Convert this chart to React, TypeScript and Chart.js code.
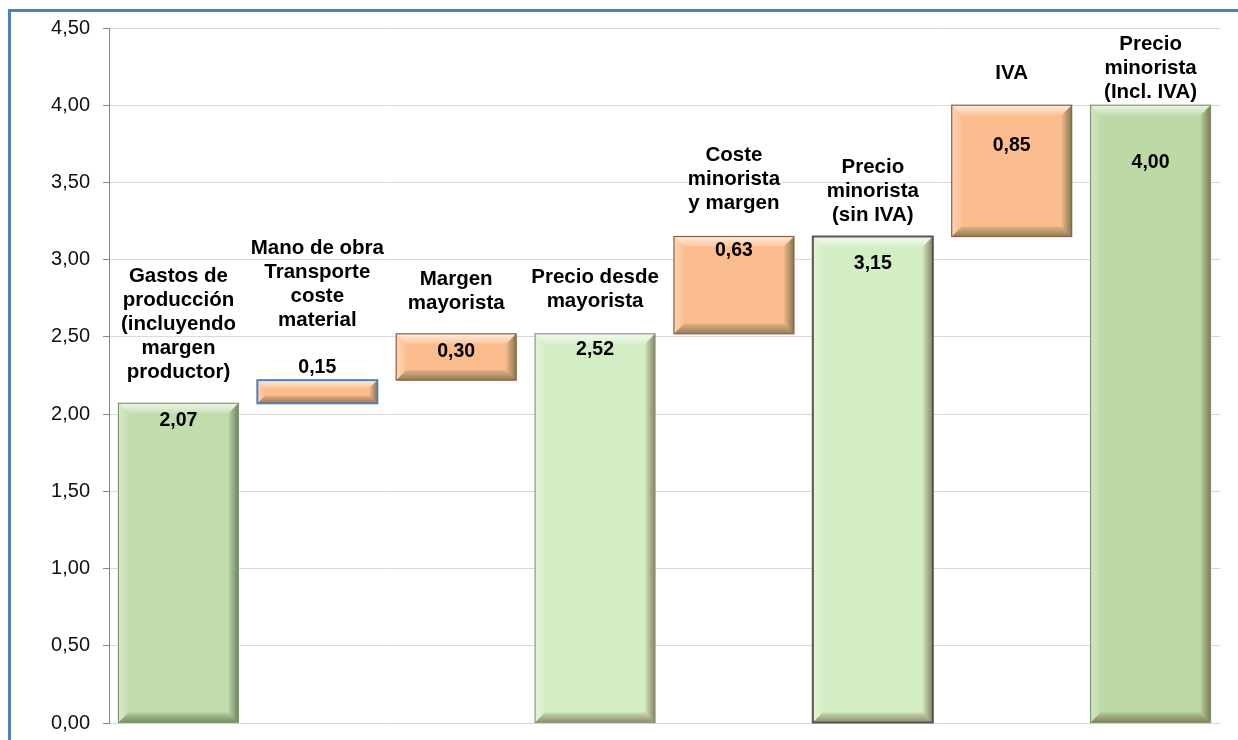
import React, { useEffect, useRef } from "react";
import { Chart, registerables } from "chart.js";

Chart.register(...registerables);

const categories: string[][] = [
  ["Gastos de", "producción", "(incluyendo", "margen", "productor)"],
  ["Mano de obra", "Transporte", "coste", "material"],
  ["Margen", "mayorista"],
  ["Precio desde", "mayorista"],
  ["Coste", "minorista", "y margen"],
  ["Precio", "minorista", "(sin IVA)"],
  ["IVA"],
  ["Precio", "minorista", "(Incl. IVA)"],
];
const values: number[] = [2.07, 0.15, 0.3, 2.52, 0.63, 3.15, 0.85, 4.0];
const bases: number[] = [0, 2.07, 2.22, 0, 2.52, 0, 3.15, 0];
const yTicks: number[] = [0, 0.5, 1, 1.5, 2, 2.5, 3, 3.5, 4, 4.5];

// styling (not data)
const fills = ["#c2ddad", "#fbbd8d", "#fbbd8d", "#d3eec4", "#fbbd8d", "#d3eec4", "#fbbd8d", "#bcd9a6"];
const borders = ["#7f9a72", "#4f81bd", "#8a6040", "#8a9a80", "#8a6040", "#555555", "#8a6040", "#7f9a72"];
const valueOffsets = [17, -13, 18, 16, 14, 27, 40, 57];
const labelGaps = [31, 60, 30, 32, 33, 21, 32, 13];
const FONT = "'Liberation Sans', Arial, sans-serif";

const fmt = (v: number) => v.toFixed(2).replace(".", ",");

const bevelPlugin = {
  id: "bevelLabels",
  afterDatasetsDraw(chart: any) {
    const ctx: CanvasRenderingContext2D = chart.ctx;
    const meta = chart.getDatasetMeta(0);
    const poly = (pts: number[][], fill: string | CanvasGradient) => {
      ctx.beginPath();
      ctx.moveTo(pts[0][0], pts[0][1]);
      for (let k = 1; k < pts.length; k++) ctx.lineTo(pts[k][0], pts[k][1]);
      ctx.closePath();
      ctx.fillStyle = fill;
      ctx.fill();
    };
    meta.data.forEach((el: any, i: number) => {
      const p = el.getProps(["x", "y", "base", "width"], true);
      const l = p.x - p.width / 2;
      const r = p.x + p.width / 2;
      const t = Math.min(p.y, p.base);
      const b = Math.max(p.y, p.base);
      const h = b - t;
      const d = Math.min(10, h / 3);
      const dark = i % 2 === 1 ? "rgba(80,40,15," : "rgba(40,60,30,";
      ctx.save();
      const gt = ctx.createLinearGradient(0, t, 0, t + d);
      gt.addColorStop(0, "rgba(255,255,255,0.7)");
      gt.addColorStop(1, "rgba(255,255,255,0.15)");
      poly([[l, t], [r, t], [r - d, t + d], [l + d, t + d]], gt);
      const gl = ctx.createLinearGradient(l, 0, l + d, 0);
      gl.addColorStop(0, "rgba(255,255,255,0.35)");
      gl.addColorStop(1, "rgba(255,255,255,0.05)");
      poly([[l, t], [l + d, t + d], [l + d, b - d], [l, b]], gl);
      const gr = ctx.createLinearGradient(r - d, 0, r, 0);
      gr.addColorStop(0, dark + "0.05)");
      gr.addColorStop(1, dark + "0.55)");
      poly([[r, t], [r, b], [r - d, b - d], [r - d, t + d]], gr);
      const gb = ctx.createLinearGradient(0, b - d, 0, b);
      gb.addColorStop(0, dark + "0.1)");
      gb.addColorStop(1, dark + "0.5)");
      poly([[l, b], [r, b], [r - d, b - d], [l + d, b - d]], gb);
      ctx.strokeStyle = borders[i];
      ctx.lineWidth = i === 1 || i === 5 ? 2 : 1.2;
      ctx.strokeRect(l, t, r - l, b - t);

      // value label
      ctx.fillStyle = "#000";
      ctx.textAlign = "center";
      ctx.textBaseline = "middle";
      ctx.font = `bold 19.5px ${FONT}`;
      ctx.fillText(fmt(values[i]), p.x, t + valueOffsets[i]);

      // category label
      ctx.font = `bold 20.5px ${FONT}`;
      const lines = categories[i];
      const lh = 24;
      const lastY = t - labelGaps[i];
      lines.forEach((ln, k) => {
        ctx.fillText(ln, p.x, lastY - (lines.length - 1 - k) * lh);
      });
      ctx.restore();
    });
  },
};

export default function App() {
  const ref = useRef<HTMLCanvasElement>(null);
  useEffect(() => {
    if (!ref.current) return;
    const chart = new Chart(ref.current, {
      type: "bar",
      data: {
        labels: categories.map((c) => c.join(" ")),
        datasets: [
          {
            data: values.map((v, i) => [bases[i], bases[i] + v]) as any,
            backgroundColor: fills,
            borderWidth: 0,
            barPercentage: 0.864,
            categoryPercentage: 1,
          },
        ],
      },
      options: {
        animation: false,
        responsive: false,
        layout: { padding: { left: 0, top: 28, right: 18, bottom: 17 } },
        plugins: { legend: { display: false }, tooltip: { enabled: false } },
        scales: {
          x: { display: false },
          y: {
            min: 0,
            max: 4.5,
            afterBuildTicks: (scale: any) => {
              scale.ticks = yTicks.map((v) => ({ value: v }));
            },
            afterFit: (scale: any) => {
              scale.width = 109;
              scale.paddingTop = 0;
              scale.paddingBottom = 0;
            },
            ticks: {
              callback: (v: any) => fmt(Number(v)),
              color: "#111",
              font: { family: FONT, size: 20 },
              padding: 13,
            },
            grid: { color: "#d9d9d9", tickColor: "#868686", tickLength: 6, lineWidth: 1 },
            border: { display: true, color: "#868686", width: 1 },
          },
        },
      },
      plugins: [bevelPlugin],
    });
    return () => chart.destroy();
  }, []);
  return (
    <div style={{ position: "fixed", left: 0, top: 0, width: 1238, height: 740, overflow: "hidden", background: "#fff" }}>
      <div
        style={{
          position: "absolute",
          left: 8,
          top: 9,
          width: 1300,
          height: 800,
          borderLeft: "3px solid #4f81bd",
          borderTop: "3px solid #4f81bd",
        }}
      />
      <canvas ref={ref} width={1238} height={740} style={{ position: "absolute", left: 0, top: 0 }} />
    </div>
  );
}
